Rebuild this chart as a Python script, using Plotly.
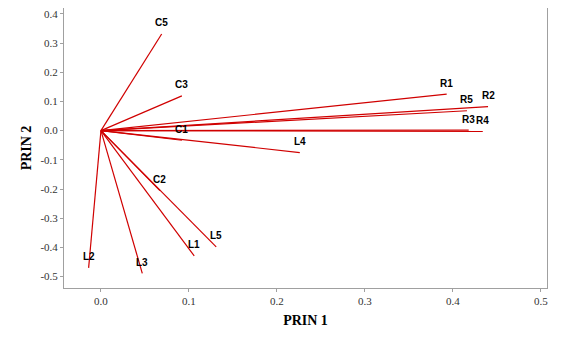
import plotly.graph_objects as go

names = ["C5", "C3", "C1", "C2", "L5", "L1", "L3", "L2", "L4", "R1", "R5", "R2", "R3", "R4"]
prin1 = [0.069, 0.092, 0.092, 0.067, 0.131, 0.106, 0.047, -0.014, 0.226, 0.393, 0.416, 0.440, 0.418, 0.434]
prin2 = [0.331, 0.119, -0.033, -0.205, -0.398, -0.429, -0.489, -0.470, -0.075, 0.125, 0.068, 0.082, 0.002, -0.003]

xticks = [0.0, 0.1, 0.2, 0.3, 0.4, 0.5]
yticks = [0.4, 0.3, 0.2, 0.1, 0.0, -0.1, -0.2, -0.3, -0.4, -0.5]

lx, ly = [], []
for x, y in zip(prin1, prin2):
    lx += [0, x, None]
    ly += [0, y, None]

fig = go.Figure()
fig.add_trace(go.Scatter(x=lx, y=ly, mode="lines",
                         line=dict(color="#d00000", width=1.2),
                         hoverinfo="skip", showlegend=False))

for n, x, y in zip(names, prin1, prin2):
    fig.add_annotation(x=x, y=y, text=f"<b>{n}</b>", showarrow=False,
                       xanchor="center", yanchor="middle", yshift=11,
                       font=dict(family="Liberation Sans", size=10, color="#000000"))

axis_common = dict(showgrid=False, zeroline=False, showline=True, linecolor="#a0a0a0",
                   linewidth=1, mirror=True, ticks="outside", ticklen=3, tickcolor="#a0a0a0",
                   ticklabeloverflow="allow",
                   tickfont=dict(family="Liberation Serif", size=11, color="#333333"))

fig.update_xaxes(range=[-0.042, 0.507], tickvals=xticks,
                 ticktext=[f"{v:.1f}" for v in xticks],
                 title=dict(text="<b>PRIN 1</b>", standoff=8,
                            font=dict(family="Liberation Serif", size=14, color="#000000")),
                 **axis_common)
fig.update_yaxes(range=[-0.539, 0.42], tickvals=yticks,
                 ticktext=[f"{v:.1f}" for v in yticks],
                 title=dict(text="<b>PRIN 2</b>", standoff=5,
                            font=dict(family="Liberation Serif", size=14, color="#000000")),
                 **axis_common)

fig.update_layout(width=568, height=336, margin=dict(l=56, r=29, t=0, b=56),
                  plot_bgcolor="white", paper_bgcolor="white")

fig.write_html("out.html")
